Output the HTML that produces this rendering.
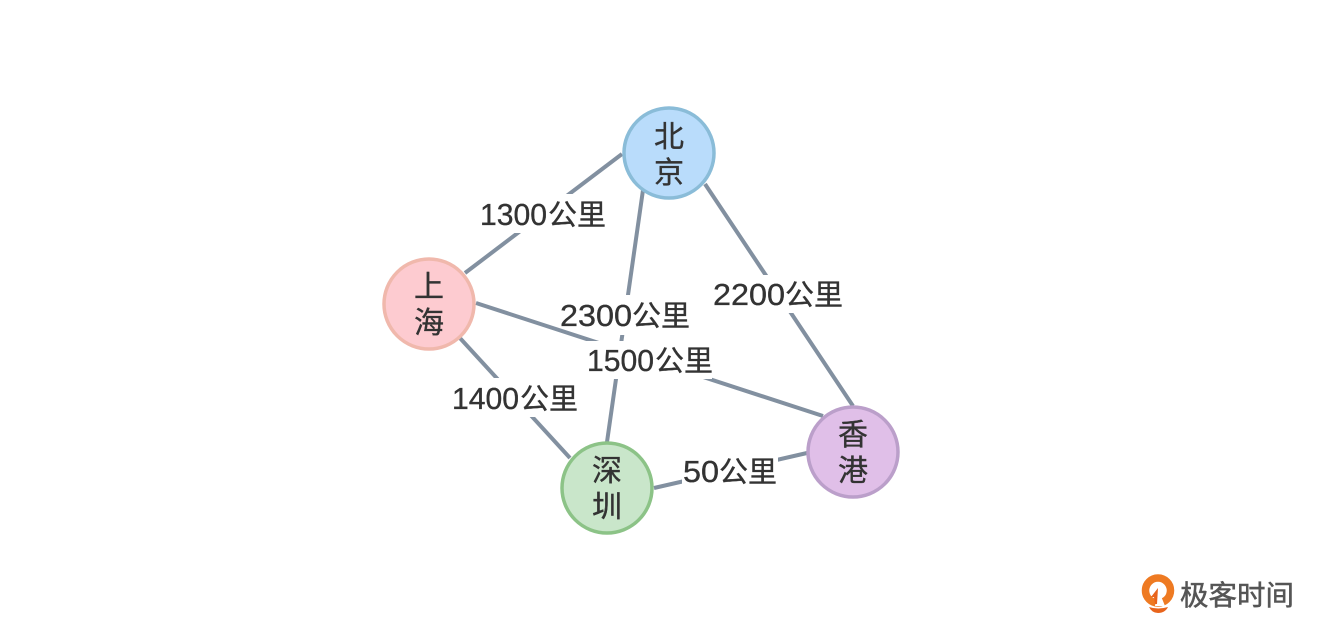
<!DOCTYPE html>
<html lang="zh">
<head>
<meta charset="utf-8">
<style>
html,body{margin:0;padding:0;background:#fff;width:1321px;height:631px;overflow:hidden}
svg{display:block}
text{font-family:"Liberation Sans","Noto Sans CJK SC",sans-serif;fill:#333;stroke:#333;stroke-width:.35px}
.d{font-size:31px}
.c{font-size:29px}
.n{font-size:30px;text-anchor:middle}
line.e{stroke:#8290a0;stroke-width:4}
</style>
</head>
<body>
<svg width="1321" height="631" viewBox="0 0 1321 631" xmlns="http://www.w3.org/2000/svg">
<rect width="1321" height="631" fill="#fff"/>
<line class="e" x1="622" y1="154" x2="465" y2="273"/>
<line class="e" x1="705" y1="184" x2="853" y2="406"/>
<line class="e" x1="459" y1="337" x2="570" y2="458"/>
<line class="e" x1="654" y1="488" x2="807" y2="453"/>
<line class="e" x1="643" y1="190" x2="607" y2="442"/>
<rect x="476" y="194" width="133" height="39" fill="#fff"/>
<rect x="709" y="275" width="138" height="38" fill="#fff"/>
<rect x="448" y="378" width="133" height="39" fill="#fff"/>
<rect x="682" y="453" width="96" height="38" fill="#fff"/>
<rect x="556" y="295" width="138" height="40" fill="#fff"/>
<line class="e" x1="476" y1="303" x2="823" y2="416"/>
<rect x="586" y="341" width="126" height="38" fill="#fff"/>

<text class="d" x="480" y="225" textLength="67" lengthAdjust="spacingAndGlyphs">1300</text><text class="c" x="548" y="225">公里</text>
<text class="d" x="713" y="305" textLength="72" lengthAdjust="spacingAndGlyphs">2200</text><text class="c" x="785" y="305">公里</text>
<text class="d" x="560" y="326" textLength="72" lengthAdjust="spacingAndGlyphs">2300</text><text class="c" x="632" y="326">公里</text>
<text class="d" x="587" y="371" textLength="67" lengthAdjust="spacingAndGlyphs">1500</text><text class="c" x="655" y="371">公里</text>
<text class="d" x="452" y="409" textLength="67" lengthAdjust="spacingAndGlyphs">1400</text><text class="c" x="520" y="409">公里</text>
<text class="d" x="683" y="482" textLength="36" lengthAdjust="spacingAndGlyphs">50</text><text class="c" x="719" y="482">公里</text>

<circle cx="669" cy="153" r="45" fill="#b9dcfb" stroke="#8abcd8" stroke-width="3.5"/>
<circle cx="429" cy="304" r="45" fill="#fdcbd0" stroke="#f0b8ac" stroke-width="3.5"/>
<circle cx="607" cy="488" r="45" fill="#c9e6ca" stroke="#8cc387" stroke-width="3.5"/>
<circle cx="853" cy="452" r="45" fill="#e0bfe8" stroke="#bb9fca" stroke-width="3.5"/>
<text class="n" x="669" y="147">北</text>
<text class="n" x="669" y="183">京</text>
<text class="n" x="429" y="297">上</text>
<text class="n" x="429" y="333">海</text>
<text class="n" x="607" y="481">深</text>
<text class="n" x="607" y="517">圳</text>
<text class="n" x="853" y="445">香</text>
<text class="n" x="853" y="481">港</text>
<!-- logo -->
<circle cx="1158" cy="590.5" r="12.5" fill="none" stroke="#ee7a22" stroke-width="7.5"/>
<path d="M1158 588 L1155 606 L1165 606 L1161 596 Z" fill="#fff"/>
<path d="M1158 588 L1151 597 L1154 597 L1155 604 L1157 604 Z" fill="#e8641c"/>
<path d="M1149 607 Q1158 610 1168 607 Q1165 613 1158 613 Q1152 613 1149 607 Z" fill="#e8641c"/>
<text x="1180" y="605" style="font-size:28px;fill:#555;stroke:#555;stroke-width:.5px" textLength="114" lengthAdjust="spacingAndGlyphs">极客时间</text>
</svg>
</body>
</html>
